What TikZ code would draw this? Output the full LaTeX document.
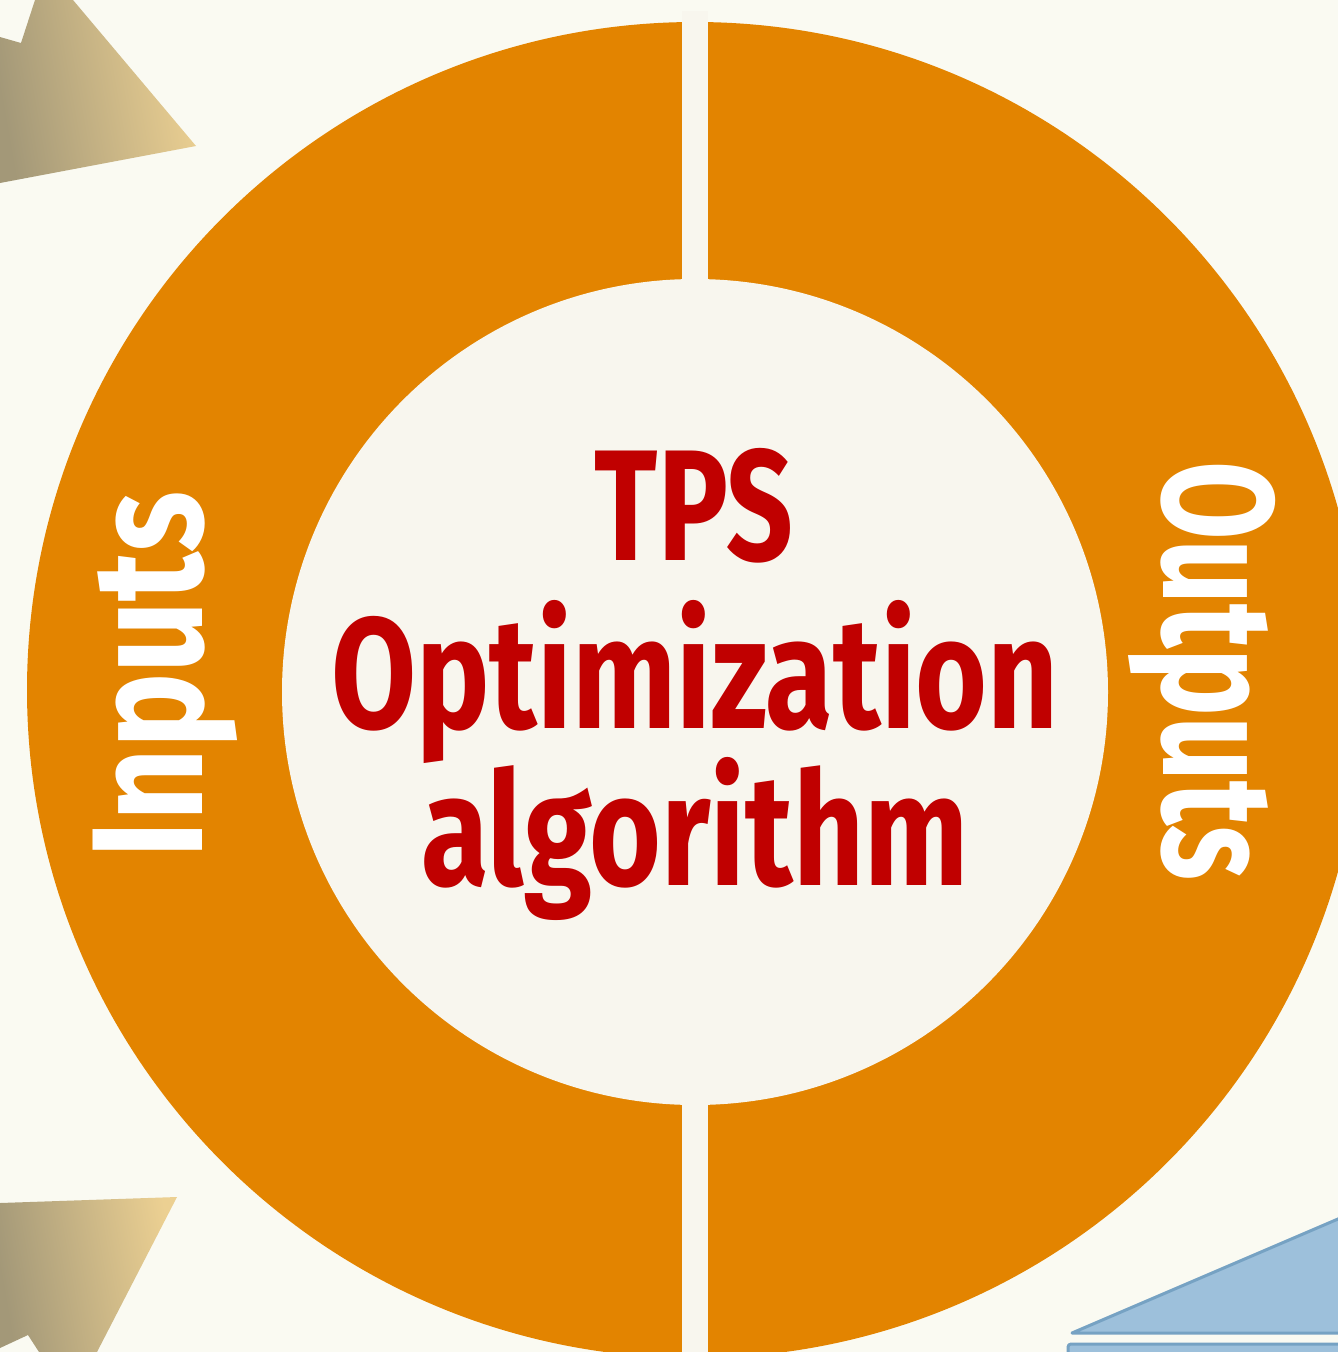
\documentclass[tikz,border=0pt]{standalone}
\usepackage{fontspec}
\setmainfont{Fira Sans}
\definecolor{pagebg}{HTML}{FAFAF2}
\definecolor{hubfill}{HTML}{F8F6EE}
\definecolor{ringorange}{HTML}{E38400}
\definecolor{titlered}{HTML}{C00000}
\definecolor{tandark}{HTML}{A39878}
\definecolor{tanlight}{HTML}{ECD092}
\definecolor{skyfill}{HTML}{9DC0DB}
\definecolor{skyedge}{HTML}{76A2C3}
\tikzset{
  centretext/.style={text=titlered, inner sep=0pt, anchor=base,
    font=\fontsize{158pt}{158pt}\selectfont\bfseries},
  sidetext/.style={text=white, inner sep=0pt, anchor=base,
    font=\fontsize{158pt}{158pt}\selectfont\bfseries},
  tanarrow/.style={left color=tandark, right color=tanlight, shading angle=100},
  skyshape/.style={fill=skyfill, draw=skyedge, line width=3pt, line join=round},
}
\begin{document}
\begin{tikzpicture}[x=1pt,y=-1pt]
\useasboundingbox (0,0) rectangle (1338,1352);
\clip (0,0) rectangle (1338,1352);
\fill[pagebg] (0,0) rectangle (1338,1352);

% incoming arrow heads on the left
\shade[tanarrow] (0,37) -- (21,43) -- (35,0) -- (73,0) -- (196,146) -- (0,183) -- cycle;
\shade[tanarrow] (0,1203) -- (177,1197) -- (97,1352) -- (39,1352) -- (28,1335) -- (0,1348) -- cycle;

% outgoing shape at the lower right
\draw[skyshape] (1072,1333) -- (1345,1216) -- (1345,1333) -- cycle;
\draw[skyshape, rounded corners=3pt] (1068,1380) -- (1068,1344) -- (1345,1344) -- (1345,1380);

% ring and hub
\fill[ringorange] (695,690) circle[radius=668pt];
\fill[hubfill] (695,692) circle[radius=413pt];
\fill[hubfill] (682,11) rectangle (708,1352);

% labels
\node[centretext] (tps) at (694,560) {\scalebox{0.74}[1]{TPS}};
\node[centretext] (opt) at (695,728) {\scalebox{0.78}[1]{Optimization}};
\node[centretext] (alg) at (695,885) {\scalebox{0.78}[1]{algorithm}};
\node[sidetext, rotate=90] (inputs) at (202,675) {\scalebox{0.80}[1]{Inputs}};
\node[sidetext, rotate=-90] (outputs) at (1163,671) {\scalebox{0.72}[1]{Outputs}};
\end{tikzpicture}
\end{document}
